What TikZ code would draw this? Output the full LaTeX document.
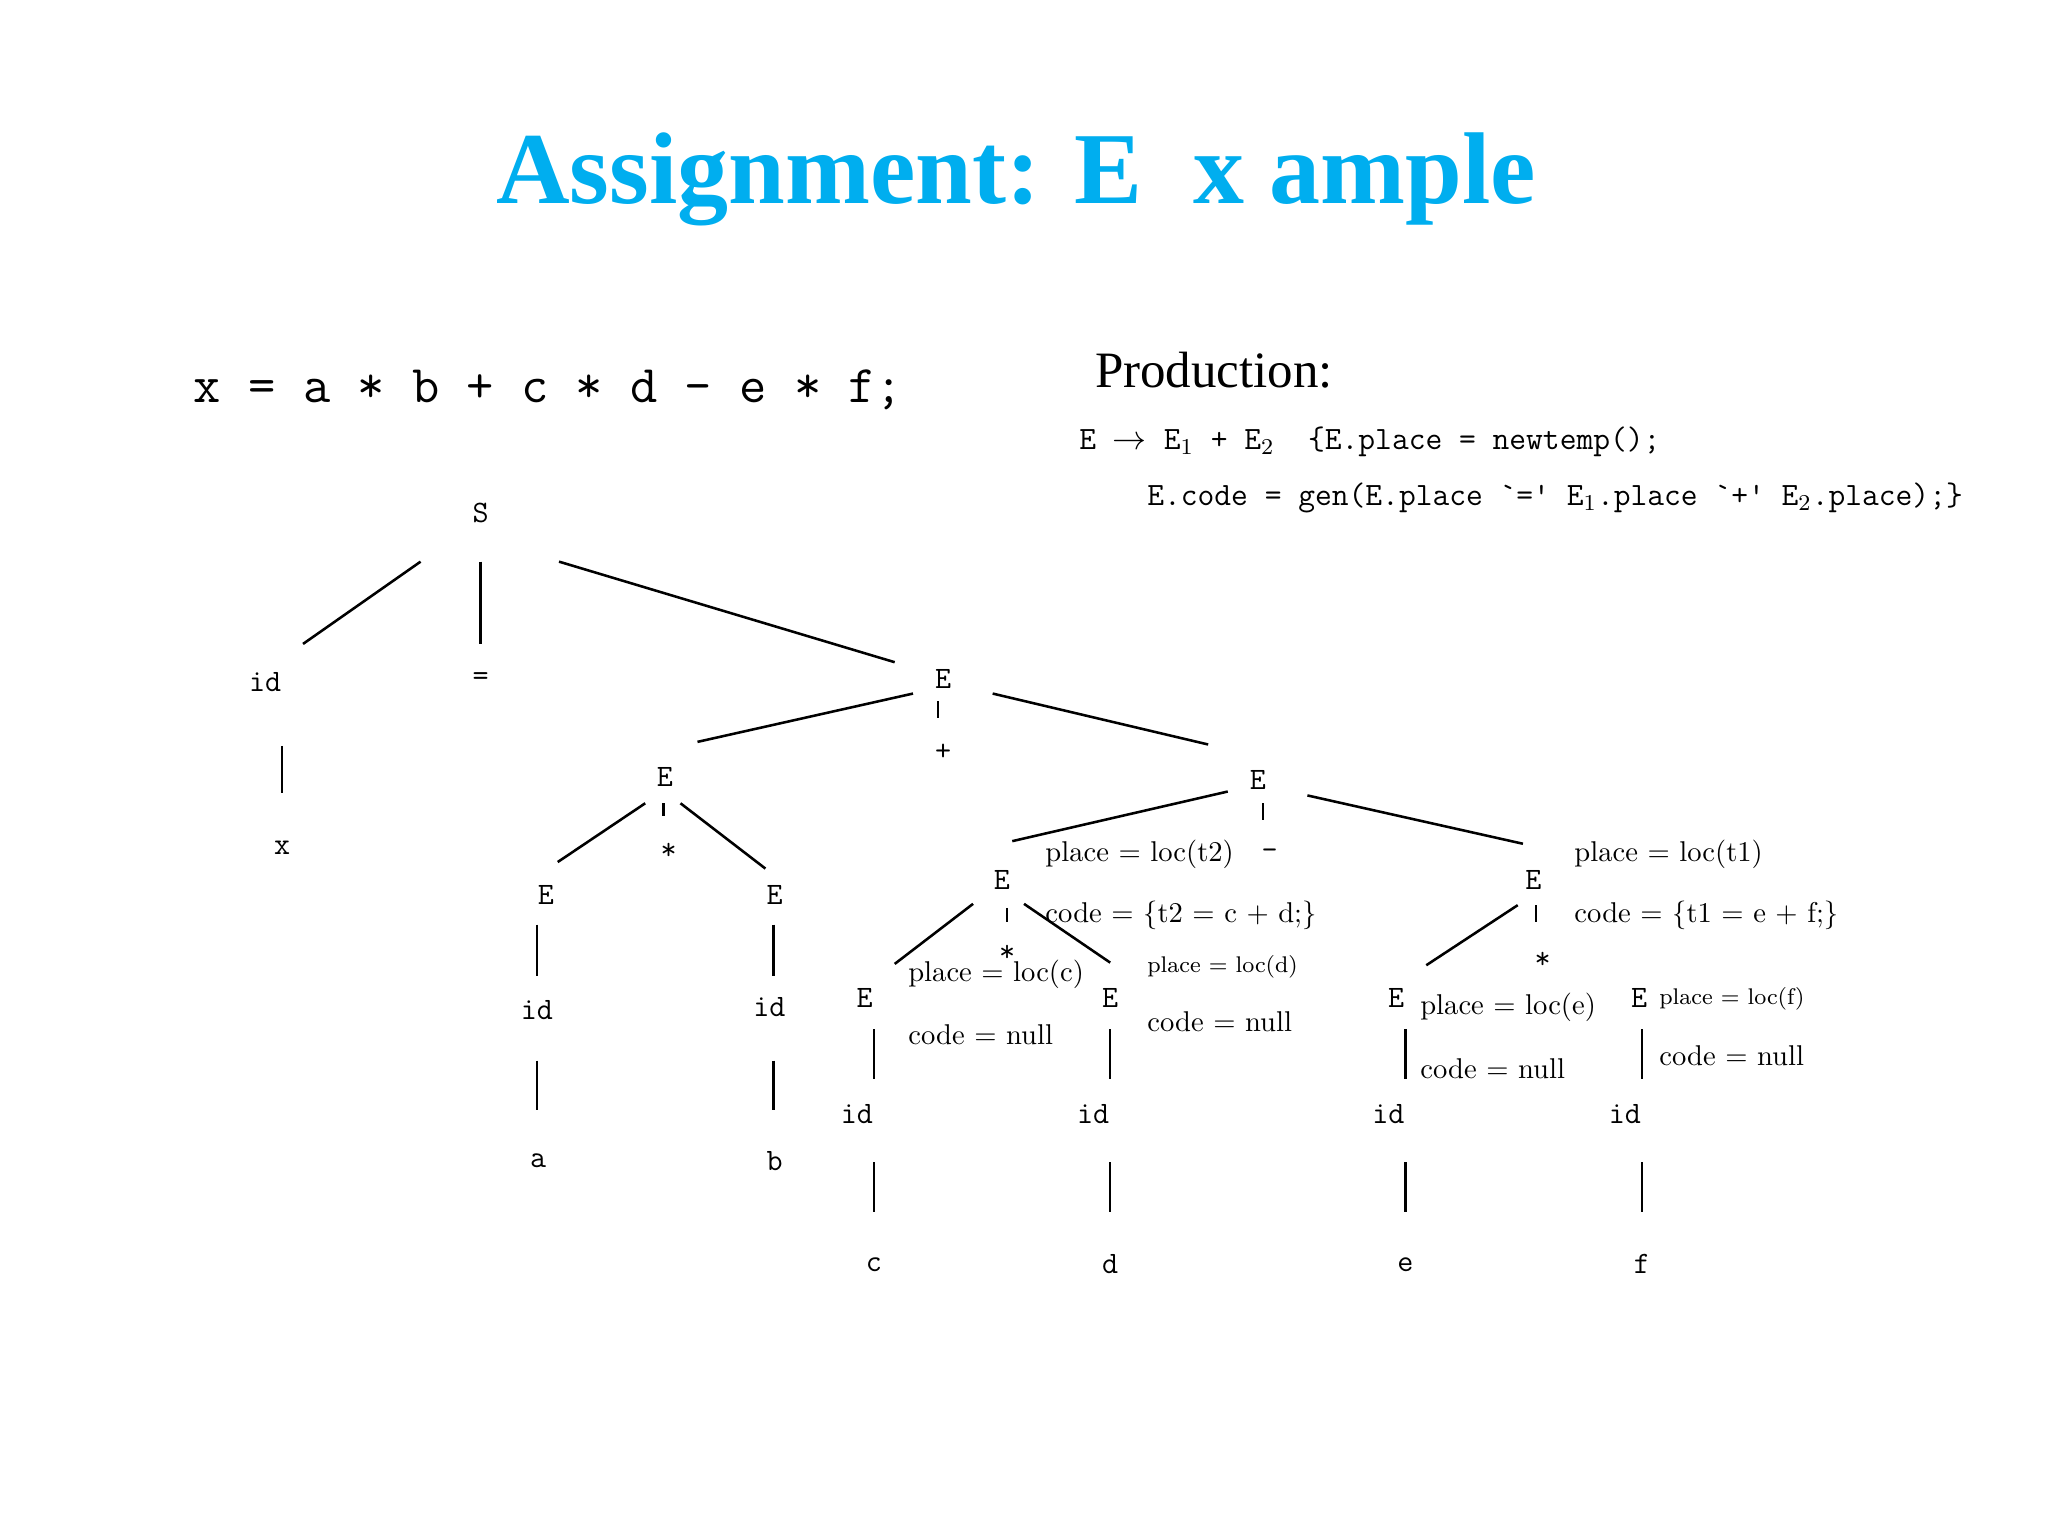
\documentclass[tikz,border=0pt]{standalone}
\usepackage{fontspec}
\usepackage{tikz}
\newfontfamily\titlefont{Liberation Serif}
\definecolor{titleblue}{RGB}{0,174,239}
\tikzset{
  tree/.style={font=\ttfamily\fontsize{11}{13}\selectfont, inner sep=0pt},
  note/.style={font=\fontsize{10.1}{12}\selectfont, anchor=west, inner sep=0pt},
  smallnote/.style={note, font=\fontsize{8}{10}\selectfont},
  branch/.style={line width=0.9pt}
}

\begin{document}
\begin{tikzpicture}[x=0.0162cm, y=-0.0162cm]
  \useasboundingbox[fill=white] (0,0) rectangle (1568,1176);
  \node(title)[anchor=base, text=titleblue, font=\titlefont\bfseries\fontsize{36}{40}\selectfont] at (778,156) {Assignment: E\ \ x ample};
  \node(stmt)[anchor=base west, inner sep=0pt, font=\ttfamily\fontsize{18.7}{20}\selectfont] at (148,308) {x = a * b + c * d - e * f;};
  \node(prod)[anchor=base west, inner sep=0pt, font=\titlefont\fontsize{18}{20}\selectfont] at (838,297) {Production:};
  \node(rule1)[anchor=base west, inner sep=0pt, font=\ttfamily\fontsize{11.5}{13}\selectfont] at (826,344) {E $\rightarrow$ E$_1$ + E$_2$~~\{E.place = newtemp();};
  \node(rule2)[anchor=base west, inner sep=0pt, font=\ttfamily\fontsize{11.5}{13}\selectfont] at (878,387) {E.code = gen(E.place `=' E$_1$.place `+' E$_2$.place);\}};

  \node(s)[tree] at (368,393) {S};
  \node(id1)[tree] at (203,522) {id};
  \node(eq)[tree] at (368,520) {=};
  \node(e0)[tree] at (722,520) {E};
  \node(x)[tree] at (216,649) {x};
  \node(e1)[tree] at (509,595) {E};
  \node(plus)[tree] at (722,576) {+};
  \node(e2)[tree] at (963,597) {E};
  \node(ea)[tree] at (418,685) {E};
  \node(star1)[tree] at (512,652) {*};
  \node(eb)[tree] at (593,685) {E};
  \node(ida)[tree] at (411,773) {id};
  \node(idb)[tree] at (589,771) {id};
  \node(a)[tree] at (412,889) {a};
  \node(b)[tree] at (593,889) {b};
  \node(et2)[tree] at (767,674) {E};
  \node(minus)[tree] at (972,654) {-};
  \node(et1)[tree] at (1174,674) {E};
  \node(ec)[tree] at (662,764) {E};
  \node(star2)[tree] at (771,730) {*};
  \node(ed)[tree] at (850,764) {E};
  \node(ee)[tree] at (1069,764) {E};
  \node(star3)[tree] at (1181,735) {*};
  \node(ef)[tree] at (1255,764) {E};
  \node(idc)[tree] at (656,853) {id};
  \node(idd)[tree] at (837,853) {id};
  \node(ide)[tree] at (1063,853) {id};
  \node(idf)[tree] at (1244,853) {id};
  \node(c)[tree] at (669,968) {c};
  \node(d)[tree] at (850,968) {d};
  \node(e)[tree] at (1076,968) {e};
  \node(f)[tree] at (1257,968) {f};

  \node(pt2)[note] at (800,654) {place = loc(t2)};
  \node(ct2)[note] at (800,701) {code = \{t2 = c + d;\}};
  \node(pt1)[note] at (1205,654) {place = loc(t1)};
  \node(ct1)[note] at (1205,701) {code = \{t1 = e + f;\}};
  \node(pc)[note] at (695,746) {place = loc(c)};
  \node(cc)[note] at (695,792) {code = null};
  \node(pd)[smallnote] at (878,740) {place = loc(d)};
  \node(cd)[note] at (878,782) {code = null};
  \node(pe)[note] at (1087,771) {place = loc(e)};
  \node(ce)[note] at (1087,818) {code = null};
  \node(pf)[smallnote] at (1270,765) {place = loc(f)};
  \node(cf)[note] at (1270,808) {code = null};

  \draw[branch] ([shift={(-46,37)}]s.center) -- ([shift={(29,-29)}]id1.center);
  \draw[branch] ([shift={(0,37)}]s.center) -- ([shift={(0,-27)}]eq.center);
  \draw[branch] ([shift={(60,37)}]s.center) -- ([shift={(-37,-13)}]e0.center);
  \draw[branch] ([shift={(13,49)}]id1.center) -- ([shift={(0,-42)}]x.center);
  \draw[branch] ([shift={(-23,11)}]e0.center) -- ([shift={(25,-27)}]e1.center);
  \draw[branch] ([shift={(-4,17)}]e0.center) -- ([shift={(-4,-26)}]plus.center);
  \draw[branch] ([shift={(38,11)}]e0.center) -- ([shift={(-38,-27)}]e2.center);
  \draw[branch] ([shift={(-15,20)}]e1.center) -- ([shift={(9,-25)}]ea.center);
  \draw[branch] ([shift={(-1,20)}]e1.center) -- ([shift={(-4,-27)}]star1.center);
  \draw[branch] ([shift={(12,20)}]e1.center) -- ([shift={(-7,-20)}]eb.center);
  \draw[branch] ([shift={(-7,23)}]ea.center) -- ([shift={(0,-26)}]ida.center);
  \draw[branch] ([shift={(0,39)}]ida.center) -- ([shift={(-1,-39)}]a.center);
  \draw[branch] ([shift={(-1,23)}]eb.center) -- ([shift={(3,-24)}]idb.center);
  \draw[branch] ([shift={(3,41)}]idb.center) -- ([shift={(-1,-39)}]b.center);
  \draw[branch] ([shift={(-23,9)}]e2.center) -- ([shift={(8,-30)}]et2.center);
  \draw[branch] ([shift={(4,18)}]e2.center) -- ([shift={(-5,-26)}]minus.center);
  \draw[branch] ([shift={(38,12)}]e2.center) -- ([shift={(-8,-28)}]et1.center);
  \draw[branch] ([shift={(-22,18)}]et2.center) -- ([shift={(23,-26)}]ec.center);
  \draw[branch] ([shift={(4,21)}]et2.center) -- ([shift={(0,-24)}]star2.center);
  \draw[branch] ([shift={(17,18)}]et2.center) -- ([shift={(0,-27)}]ed.center);
  \draw[branch] ([shift={(7,24)}]ec.center) -- ([shift={(13,-27)}]idc.center);
  \draw[branch] ([shift={(13,37)}]idc.center) -- ([shift={(0,-40)}]c.center);
  \draw[branch] ([shift={(0,24)}]ed.center) -- ([shift={(13,-27)}]idd.center);
  \draw[branch] ([shift={(13,37)}]idd.center) -- ([shift={(0,-40)}]d.center);
  \draw[branch] ([shift={(-12,19)}]et1.center) -- ([shift={(23,-25)}]ee.center);
  \draw[branch] ([shift={(2,19)}]et1.center) -- ([shift={(-5,-29)}]star3.center);
  \draw[branch] ([shift={(7,24)}]ee.center) -- ([shift={(13,-27)}]ide.center);
  \draw[branch] ([shift={(13,37)}]ide.center) -- ([shift={(0,-40)}]e.center);
  \draw[branch] ([shift={(2,24)}]ef.center) -- ([shift={(13,-27)}]idf.center);
  \draw[branch] ([shift={(13,37)}]idf.center) -- ([shift={(0,-40)}]f.center);
\end{tikzpicture}
\end{document}
